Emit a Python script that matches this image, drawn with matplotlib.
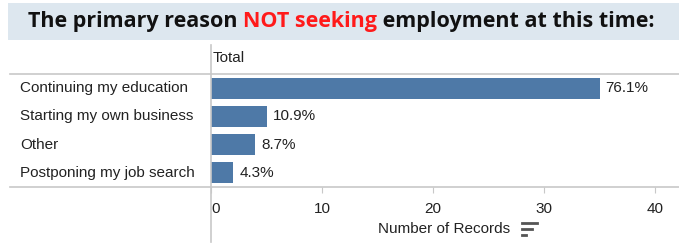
import matplotlib
matplotlib.use("Agg")
import matplotlib.pyplot as plt
from matplotlib.lines import Line2D
from matplotlib.patches import Rectangle
from matplotlib.transforms import blended_transform_factory

categories = ["Continuing my education", "Starting my own business", "Other", "Postponing my job search"]
counts = [35, 5, 4, 2]
pct_labels = ["76.1%", "10.9%", "8.7%", "4.3%"]
xticks = [0, 10, 20, 30, 40]
title_parts = ["The primary reason ", "NOT seeking", " employment at this time:"]
title_colors = ["#111111", "#ff1a1a", "#111111"]

W, H = 679, 252
fig = plt.figure(figsize=(W / 100, H / 100), dpi=100)
fig.patch.set_facecolor("white")

def fx(px):
    return px / W

def fy(py):
    return 1 - py / H

# title band
fig.add_artist(Rectangle((fx(8), fy(40)), fx(679 - 8), (40 - 3) / H,
                         transform=fig.transFigure, facecolor="#dde7ef", edgecolor="none"))

# title text with mixed colours, fitted to the reference width
renderer = fig.canvas.get_renderer()
target_w = 627
size = 14.0
for _ in range(3):
    texts = []
    total_w = 0
    for s, c in zip(title_parts, title_colors):
        t = fig.text(0, fy(22), s, color=c, va="center", ha="left",
                     family="Open Sans", weight="bold", size=size)
        w = t.get_window_extent(renderer).width
        texts.append((t, w))
        total_w += w
    if abs(total_w - target_w) < 2:
        break
    for t, _w in texts:
        t.remove()
    size *= target_w / total_w
x0 = 28
for t, w in texts:
    t.set_x(fx(x0))
    x0 += w

# main axes
left, right, top, bottom = 211, 679, 74, 187
ax = fig.add_axes([fx(left), fy(bottom), fx(right - left), (bottom - top) / H])
ax.set_facecolor("none")
ypos = list(range(len(categories)))
ax.barh(ypos, counts, height=0.74, color="#4e79a7")
ax.set_ylim(len(categories) - 0.5, -0.5)
ax.set_xlim(0, (right - left) / 11.1)
for s in ax.spines.values():
    s.set_visible(False)
ax.set_yticks([])
ax.set_xticks(xticks)
ax.set_xticklabels([str(v) for v in xticks])
ax.tick_params(axis="x", direction="out", length=4, width=0.8, color="#c8c8c8",
               labelsize=11, labelcolor="#222222", pad=7)
for lab in ax.get_xticklabels():
    lab.set_family("Liberation Sans")
ax.get_xticklabels()[0].set_horizontalalignment("left")

FS = 11
# value labels
for y, v, lab in zip(ypos, counts, pct_labels):
    ax.annotate(lab, (v, y), xytext=(4.5, 0), textcoords="offset points",
                va="center", ha="left", fontsize=FS, family="Liberation Sans", color="#222222")

# row labels
tr = blended_transform_factory(fig.transFigure, ax.transData)
for y, c in zip(ypos, categories):
    ax.text(fx(20), y, c, transform=tr, va="center", ha="left", fontsize=FS,
            family="Liberation Sans", color="#222222")

# header
fig.text(fx(213), fy(58), "Total", va="center", ha="left", fontsize=FS,
         family="Liberation Sans", color="#222222")

# grid lines of the table
lc = "#c8c8c8"
fig.add_artist(Line2D([fx(10), fx(679)], [fy(74), fy(74)], color=lc, lw=1.2))
fig.add_artist(Line2D([fx(10), fx(679)], [fy(187), fy(187)], color=lc, lw=1.2))
fig.add_artist(Line2D([fx(211), fx(211)], [fy(45), fy(242)], color=lc, lw=1.2))

# axis title and sort icon
fig.text(fx(444.5), fy(229), "Number of Records", va="center", ha="center", fontsize=FS,
         family="Liberation Sans", color="#222222")
ic = "#555555"
fig.add_artist(Line2D([fx(522), fx(537)], [fy(223), fy(223)], color=ic, lw=2))
fig.add_artist(Line2D([fx(522), fx(532)], [fy(229), fy(229)], color=ic, lw=2))
fig.add_artist(Line2D([fx(522), fx(526)], [fy(235), fy(235)], color=ic, lw=2))

fig.savefig("out.png", dpi=100)
